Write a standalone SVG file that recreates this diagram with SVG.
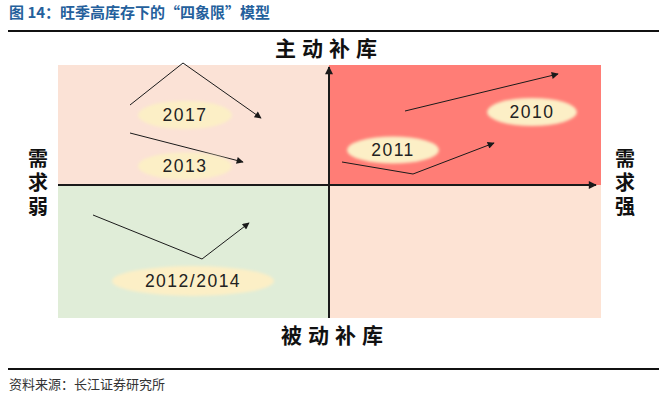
<svg xmlns="http://www.w3.org/2000/svg" width="663" height="398" viewBox="0 0 663 398">
<defs>
<marker id="ah" viewBox="0 0 10 10" refX="9" refY="5" markerWidth="9" markerHeight="7" markerUnits="userSpaceOnUse" orient="auto">
<path d="M0,0 L10,5 L0,10 z" fill="#1a1a1a"/>
</marker>
<marker id="axh" viewBox="0 0 10 10" refX="9" refY="5" markerWidth="10" markerHeight="8" markerUnits="userSpaceOnUse" orient="auto">
<path d="M0,0 L10,5 L0,10 z" fill="#1a1a1a"/>
</marker>
<filter id="soft" x="-20%" y="-40%" width="140%" height="180%">
<feGaussianBlur stdDeviation="1.5"/>
</filter>
<style>
.title{font-family:"Noto Sans CJK SC","Liberation Sans",sans-serif;font-size:15px;fill:#24609c;font-weight:bold}
.foot{font-family:"Noto Sans CJK SC","Liberation Sans",sans-serif;font-size:13px;fill:#333}
.axis-lbl{font-family:"Noto Sans CJK SC",sans-serif;font-size:21px;font-weight:bold;fill:#111}
.side{font-family:"Noto Sans CJK SC",sans-serif;font-size:20px;font-weight:bold;fill:#111;writing-mode:vertical-rl;text-anchor:middle;letter-spacing:4px}
.yr{font-family:"Liberation Sans","Noto Sans CJK SC",sans-serif;font-size:17.5px;letter-spacing:1.5px;fill:#222;text-anchor:middle;dominant-baseline:central}
.ell{fill:#fcefc6}
.conn{fill:none;stroke:#1a1a1a;stroke-width:1}
.axis{fill:none;stroke:#1a1a1a;stroke-width:2}
.rule{stroke:#111;stroke-width:2}
</style>
</defs>
<rect width="663" height="398" fill="#ffffff"/>
<g id="title">
<text class="title" x="9" y="18">图 14：旺季高库存下的“四象限”模型</text>
<line class="rule" x1="8" y1="31" x2="659" y2="31"/>
</g>
<g id="q-topleft"><rect x="58" y="65" width="271" height="120" fill="#fbe2d6"/></g>
<g id="q-topright"><rect x="329" y="65" width="272" height="120" fill="#ff7d76"/></g>
<g id="q-bottomleft"><rect x="58" y="185" width="271" height="133" fill="#e0edd8"/></g>
<g id="q-bottomright"><rect x="329" y="185" width="272" height="133" fill="#fde3d4"/></g>
<g id="lbl-top"><text class="axis-lbl" x="329" y="56" text-anchor="middle" letter-spacing="6">主动补库</text></g>
<g id="lbl-bottom"><text class="axis-lbl" x="335" y="343" text-anchor="middle" letter-spacing="6">被动补库</text></g>
<g id="lbl-left"><text class="side" x="38" y="184">需求弱</text></g>
<g id="lbl-right"><text class="side" x="625" y="184">需求强</text></g>
<g id="connectors">
<polyline class="axis" points="329,318 329,67" marker-end="url(#axh)"/>
<polyline class="axis" points="58,185 596,185" marker-end="url(#axh)"/>
<polyline class="conn" points="130,105 183,63 261,118" marker-end="url(#ah)"/>
<polyline class="conn" points="130,133 243,162" marker-end="url(#ah)"/>
<polyline class="conn" points="405,111 558,74" marker-end="url(#ah)"/>
<polyline class="conn" points="342,162 413,174 494,143" marker-end="url(#ah)"/>
<polyline class="conn" points="93,215 202,259 249,223" marker-end="url(#ah)"/>
</g>
<g id="y2017"><ellipse class="ell" cx="185" cy="115" rx="47" ry="14" filter="url(#soft)"/><text class="yr" x="185" y="115">2017</text></g>
<g id="y2013"><ellipse class="ell" cx="185" cy="166" rx="47" ry="13.5" filter="url(#soft)"/><text class="yr" x="185" y="166">2013</text></g>
<g id="y2010"><ellipse class="ell" cx="532" cy="112" rx="45" ry="14" filter="url(#soft)"/><text class="yr" x="532" y="112">2010</text></g>
<g id="y2011"><ellipse class="ell" cx="393" cy="150" rx="46" ry="13.5" filter="url(#soft)"/><text class="yr" x="393" y="150">2011</text></g>
<g id="y2012-2014"><ellipse class="ell" cx="193" cy="281" rx="81" ry="15" filter="url(#soft)"/><text class="yr" x="193" y="281">2012/2014</text></g>
<g id="footer">
<line class="rule" x1="8" y1="369" x2="659" y2="369"/>
<text class="foot" x="9" y="389">资料来源：长江证券研究所</text>
</g>
</svg>
